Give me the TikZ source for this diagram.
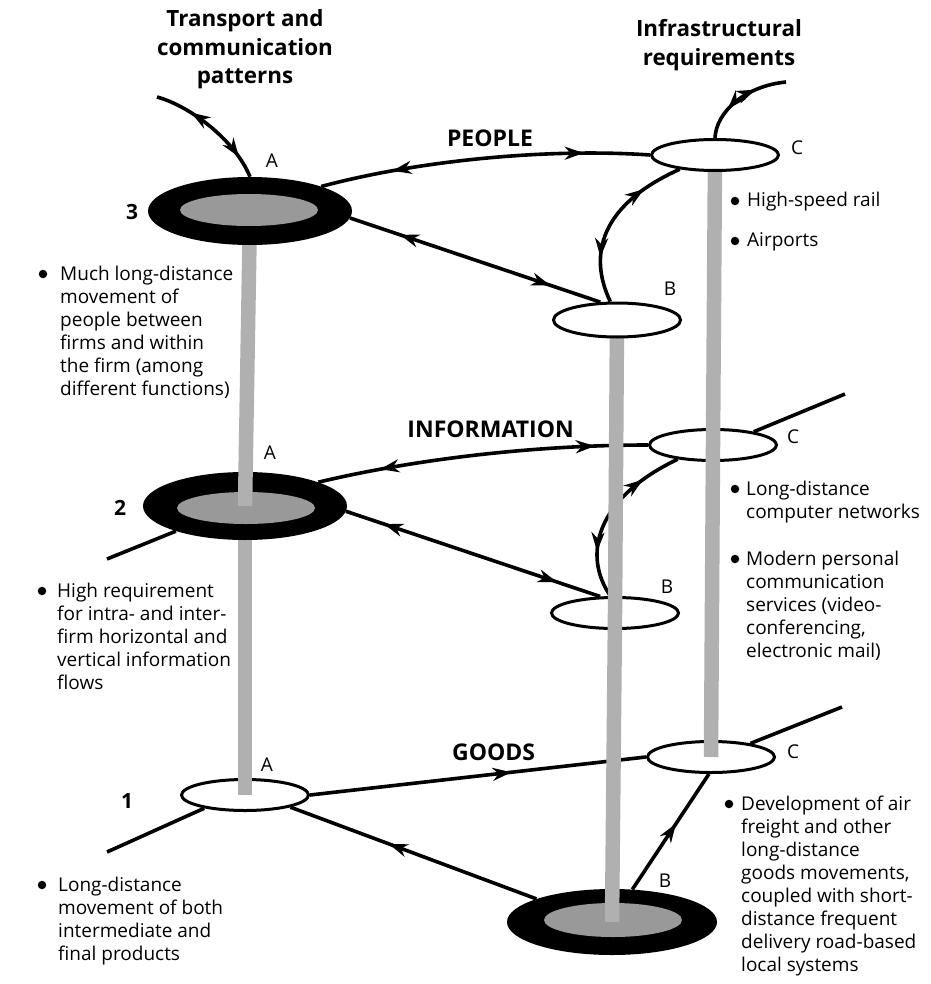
\documentclass[tikz,border=0pt]{standalone}
\usepackage{fontspec}
\setmainfont{Open Sans}
\usetikzlibrary{arrows.meta,decorations.markings,shapes.geometric}
\pgfdeclarelayer{bg}
\pgfdeclarelayer{paper}
\pgfsetlayers{paper,bg,main}
\definecolor{polegray}{gray}{0.69}
\definecolor{hubgray}{gray}{0.60}
\tikzset{
  >={Stealth[length=19pt,width=13pt,inset=6pt]},
  conn/.style={line width=3.6pt, draw=black},
  fwd/.style={postaction={decorate,decoration={markings,mark=at position #1 with {\arrow{>}}}}},
  bwd/.style={postaction={decorate,decoration={markings,mark=at position #1 with {\arrowreversed{>}}}}},
  ringout/.style={ellipse, fill=black, minimum width=204pt, minimum height=68pt, inner sep=0pt},
  ringin/.style={ellipse, fill=hubgray, minimum width=138pt, minimum height=32pt, inner sep=0pt},
  site/.style={ellipse, draw=black, line width=3pt, fill=white, minimum width=127pt, minimum height=31pt, inner sep=0pt},
  pole/.style={line width=14.5pt, draw=polegray},
  lab/.style={font=\fontsize{19}{23}\selectfont, inner sep=0pt, anchor=base},
  num/.style={font=\bfseries\fontsize{21}{24}\selectfont, inner sep=0pt},
  head/.style={font=\bfseries\fontsize{23}{26}\selectfont, inner sep=0pt},
  ttl/.style={font=\bfseries\fontsize{22.4}{28.5}\selectfont, align=center, inner sep=0pt, anchor=base},
  body/.style={font=\fontsize{19}{23}\selectfont, align=left, inner sep=0pt, anchor=base west},
  dot/.style={circle, fill=black, inner sep=0pt, minimum size=8.5pt},
}
\begin{document}
\begin{tikzpicture}[x=1pt,y=-1pt]
\useasboundingbox (0,0) rectangle (930,984);
\begin{pgfonlayer}{paper}
\fill[white] (0,0) rectangle (930,984);
\end{pgfonlayer}

% left pole and hubs
\node[site] (n1A) at (245,795) {};
\draw[pole] (n1A.center) -- (245,506);
\node[ringout] (r2) at (245,506) {};
\node[ringin] (r2i) at (246,508) {};
\draw[pole] (r2.center) -- (250,211);
\node[ringout] (r3) at (250,211) {};
\node[ringin] (r3i) at (249,210) {};

% middle pole
\node[ringout, minimum width=210pt, minimum height=66pt] (gB) at (612,922) {};
\node[ringin, minimum height=34pt] (gBi) at (613,920) {};
\node[site] (iB) at (615,613) {};
\draw[pole] (gB.center) -- (iB.center);
\draw[pole] (iB.center) -- (617,320);
\node[site, minimum height=34pt] (pB) at (617,320) {};

% right pole
\node[site] (gC) at (711,757) {};
\node[site] (iC) at (713,445) {};
\draw[pole] (gC.center) -- (iC.center);
\draw[pole] (iC.center) -- (715,155);
\node[site] (pC) at (715,155) {};

\begin{pgfonlayer}{bg}
\coordinate (tl) at (157,97);
\coordinate (tr) at (786,82);
\coordinate (ie) at (845,394);
\coordinate (iw) at (107,559);
\coordinate (ge) at (842,707);
\coordinate (gw) at (107,852);
% people
\draw[conn, bwd=0.3, fwd=0.82] (tl) .. controls (190,106) and (235,140) .. (r3.north);
\draw[conn, bwd=0.33, fwd=0.68] (pC.north) .. controls (716,112) and (745,86) .. (tr);
\draw[conn, bwd=0.22, fwd=0.8] (r3.19) .. controls (420,160) and (550,148) .. (pC.west);
\draw[conn, bwd=0.2, fwd=0.8] (r3.-4) -- (pB.133);
\draw[conn, bwd=0.27, fwd=0.76] (pB.110) .. controls (588,255) and (600,205) .. (pC.-158);
% information
\draw[conn, bwd=0.19, fwd=0.84] (r2.18) .. controls (420,458) and (540,445) .. (iC.west);
\draw[conn, bwd=0.15, fwd=0.83] (r2.-3) -- (iB.132);
\draw[conn, bwd=0.27, fwd=0.77] (iB.105) .. controls (582,555) and (596,498) .. (iC.-158);
\draw[conn] (iC.18) -- (ie);
\draw[conn] (r2.200) -- (iw);
% goods
\draw[conn, fwd=0.6] (n1A.east) -- (gC.west);
\draw[conn, fwd=0.6] (gB.163) -- (n1A.-15);
\draw[conn, fwd=0.57] (gB.58) -- (gC.-97);
\draw[conn] (gC.19) -- (ge);
\draw[conn] (n1A.198) -- (gw);
\end{pgfonlayer}

% titles and headings
\node[ttl] (t1) at (245,84) {Transport and\\communication\\patterns};
\node[ttl] (t2) at (719,65.5) {Infrastructural\\requirements};
\node[head, anchor=base] (hp) at (490,147) {PEOPLE};
\node[head, anchor=base east] (hi) at (574,437) {INFORMATION};
\node[head, anchor=base west] (hg) at (452,760) {GOODS};

% letters
\node[lab] (la3) at (272,168) {A};
\node[lab] (la2) at (270,459) {A};
\node[lab] (la1) at (267,771) {A};
\node[lab] (lbp) at (670,295) {B};
\node[lab] (lbi) at (667,593) {B};
\node[lab] (lbg) at (665,887) {B};
\node[lab] (lcp) at (797,155) {C};
\node[lab] (lci) at (793,443) {C};
\node[lab] (lcg) at (793,758) {C};
\node[num] (n3) at (132,212) {3};
\node[num] (n2) at (120,508) {2};
\node[num] (n1) at (127,801) {1};

% bullet texts
\node[dot] (d1) at (43,274) {};
\node[body] (b1) at (60,395) {Much long-distance\\movement of\\people between\\firms and within\\the firm (among\\different functions)};
\node[dot] (d2) at (42,591) {};
\node[body] (b2) at (57,689) {High requirement\\for intra- and inter-\\firm horizontal and\\vertical information\\flows};
\node[dot] (d3) at (42,885) {};
\node[body] (b3) at (58,960) {Long-distance\\movement of both\\intermediate and\\final products};
\node[dot] (d4) at (735,201) {};
\node[body] (b4) at (747,207) {High-speed rail};
\node[dot] (d5) at (735,241) {};
\node[body] (b5) at (747,247) {Airports};
\node[dot] (d6) at (735,489) {};
\node[body] (b6) at (746,518) {Long-distance\\computer networks};
\node[dot] (d7) at (735,559) {};
\node[body] (b7) at (746,657) {Modern personal\\communication\\services (video-\\conferencing,\\electronic mail)};
\node[dot] (d8) at (729,804) {};
\node[body] (b8) at (741,971) {Development of air\\freight and other\\long-distance\\goods movements,\\coupled with short-\\distance frequent\\delivery road-based\\local systems};
\end{tikzpicture}
\end{document}
